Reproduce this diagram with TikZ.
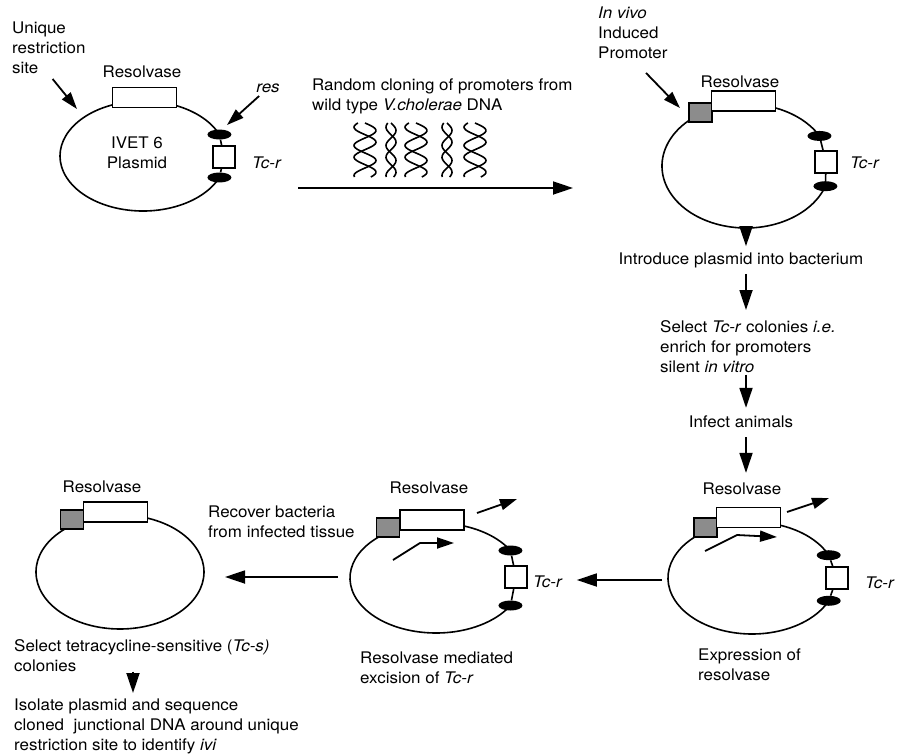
\documentclass[tikz,border=0pt]{standalone}
\usepackage{fontspec}
\setmainfont{TeX Gyre Heros}[FakeStretch=1.06]
\usetikzlibrary{shapes.geometric,arrows.meta,calc}
\newcommand{\figfont}{\fontsize{16pt}{20pt}\selectfont}

\tikzset{
  txt/.style={inner sep=0pt},
  lbl/.style={inner sep=0pt, align=left, anchor=north west},
  plasmid/.style={line width=1.6pt},
  genebox/.style={draw, fill=white, line width=1.5pt, minimum width=64pt, minimum height=20pt, inner sep=0pt},
  promobox/.style={draw, fill=black!45, line width=1.5pt, minimum width=23pt, minimum height=19pt, inner sep=0pt},
  tcbox/.style={draw, fill=white, line width=1.5pt, minimum size=22pt, inner sep=0pt},
  ressite/.style={ellipse, fill=black, minimum width=24pt, minimum height=10pt, inner sep=0pt},
  flow/.style={line width=1.8pt, -{Triangle[length=20pt,width=13pt]}},
  pointer/.style={line width=1.8pt, -{Triangle[length=17pt,width=11pt]}},
  strand/.style={line width=1.6pt},
}

\begin{document}
\begin{tikzpicture}[x=1pt, y=-1pt, font=\figfont]
  \path[fill=white] (0,0) rectangle (898,755);

  % IVET 6 plasmid
  \draw[plasmid] ([shift={(-23:83 and 55)}]143,156) arc[start angle=-23, end angle=-337, x radius=83, y radius=55];
  \node[ressite] (p1up) at ([shift={(-23:83 and 55)}]143,156) {};
  \node[ressite] (p1lo) at ([shift={(23:83 and 55)}]143,156) {};
  \node[tcbox] (p1tc) at (224,157) {};
  \draw[plasmid] (p1up) -- (p1tc) -- (p1lo);
  \node[genebox] (p1res) at (144.5,97.5) {};
  \node[txt] (p1name) at (142,72) {Resolvase};
  \node[txt, align=center] (p1lbl) at (137,153) {IVET 6\\Plasmid};
  \node[txt, anchor=west] (p1tcl) at (252,163) {\textit{Tc-r}};
  \node[txt] (p1resl) at (268,88) {\textit{res}};
  \coordinate (p1rs) at (227,125);
  \draw[pointer, shorten <=5pt] (p1resl) -- (p1rs);
  \node[lbl] (uniq) at (12,22) {Unique\\restriction\\site};
  \coordinate (p1site) at (77,109);
  \draw[pointer, shorten <=6pt] (uniq.south) -- (p1site);

  % cloning step
  \node[lbl] (clone) at (312,79) {Random cloning of promoters from\\wild type \textit{V.cholerae} DNA};
  \foreach \hx/\amp in {365/11, 391/5, 416/11, 447/5, 475/11} {
    \draw[strand] plot[domain=0:54, samples=40, smooth] ({\hx+\amp*sin(\x*12)}, {123+\x});
    \draw[strand] plot[domain=0:54, samples=40, smooth] ({\hx-\amp*sin(\x*12+40)}, {123+\x});
  }
  \coordinate (clonea) at (298,188);
  \coordinate (cloneb) at (573,188);
  \draw[flow] (clonea) -- (cloneb);

  % plasmid with induced promoter
  \draw[plasmid] ([shift={(-29:84 and 62)}]746,166) arc[start angle=-29, end angle=-341, x radius=84, y radius=62];
  \node[ressite] (p2up) at ([shift={(-29:84 and 62)}]746,166) {};
  \node[ressite] (p2lo) at ([shift={(19:84 and 62)}]746,166) {};
  \node[tcbox] (p2tc) at (826,162) {};
  \draw[plasmid] (p2up) -- (p2tc) -- (p2lo);
  \node[promobox] (p2pro) at (700.5,112.5) {};
  \node[genebox] (p2res) at (743.5,101) {};
  \node[txt] (p2name) at (740,82) {Resolvase};
  \node[txt, anchor=west] (p2tcl) at (850,163) {\textit{Tc-r}};
  \node[lbl] (invivo) at (598,7) {\textit{In vivo}\\Induced\\Promoter};
  \coordinate (p2site) at (680,108);
  \draw[pointer, shorten <=19pt] (invivo.south) -- (p2site);
  \coordinate (p2bot) at (746,228);

  % steps down the right side
  \node[txt] (intro) at (741,260) {Introduce plasmid into bacterium};
  \node[lbl] (select) at (660,320) {Select \textit{Tc-r} colonies \textit{i.e.}\\enrich for promoters\\silent \textit{in vitro}};
  \node[txt] (infect) at (741,422) {Infect animals};
  \draw[flow, shorten >=6pt] (p2bot) -- (p2bot |- intro.north);
  \draw[flow, shorten <=6pt, shorten >=10pt] (p2bot |- intro.south) -- (p2bot |- select.north);
  \draw[flow, shorten <=2pt, shorten >=8pt] (p2bot |- select.south) -- (p2bot |- infect.north);

  % expression of resolvase
  \draw[plasmid] ([shift={(-24:84 and 56)}]752,578) arc[start angle=-24, end angle=-336, x radius=84, y radius=56];
  \node[ressite] (p3up) at ([shift={(-24:84 and 56)}]752,578) {};
  \node[ressite] (p3lo) at ([shift={(24:84 and 56)}]752,578) {};
  \node[tcbox] (p3tc) at (837,578) {};
  \draw[plasmid] (p3up) -- (p3tc) -- (p3lo);
  \node[promobox] (p3pro) at (705.5,527.5) {};
  \node[genebox] (p3res) at (748.5,517.5) {};
  \node[txt] (p3name) at (742,489) {Resolvase};
  \node[txt, anchor=west] (p3tcl) at (865,583) {\textit{Tc-r}};
  \draw[pointer] (787,512) -- (829,498);
  \draw[pointer] (705,551) -- (737,535) -- (777,537);
  \node[lbl] (p3cap) at (698,649) {Expression of\\resolvase};
  \draw[flow, shorten <=9pt, shorten >=10pt] (p2bot |- infect.south) -- (p2bot |- p3name.north);

  % excision of Tc-r
  \draw[plasmid] ([shift={(-30:86 and 55)}]436,578) arc[start angle=-30, end angle=-330, x radius=86, y radius=55];
  \node[ressite] (p4up) at ([shift={(-30:86 and 55)}]436,578) {};
  \node[ressite] (p4lo) at ([shift={(30:86 and 55)}]436,578) {};
  \node[tcbox] (p4tc) at (516,577) {};
  \draw[plasmid] (p4up) -- (p4tc) -- (p4lo);
  \node[promobox] (p4pro) at (388,527.5) {};
  \node[genebox] (p4res) at (432,520) {};
  \node[txt] (p4name) at (429,488) {Resolvase};
  \node[txt, anchor=west] (p4tcl) at (533,582) {\textit{Tc-r}};
  \draw[pointer] (477,513) -- (517,499);
  \draw[pointer] (393,560) -- (420,543) -- (454,543);
  \node[lbl] (p4cap) at (360,652) {Resolvase mediated\\excision of \textit{Tc-r}};
  \coordinate (p3w) at (668,580);
  \draw[flow, shorten <=6pt, shorten >=14pt] (p3w) -- (p3w -| p4tcl.east);

  % plasmid after excision
  \draw[plasmid] (120,572) ellipse[x radius=84, y radius=57];
  \node[promobox] (p5pro) at (72,519.5) {};
  \node[genebox] (p5res) at (115.5,512) {};
  \node[txt] (p5name) at (102,487) {Resolvase};
  \node[lbl] (recover) at (208,506) {Recover bacteria\\from infected tissue};
  \coordinate (p4w) at (350,577);
  \coordinate (p5e) at (204,577);
  \draw[flow, shorten <=12pt, shorten >=21pt] (p4w) -- (p5e);
  \node[lbl] (tcs) at (14,639) {Select tetracycline-sensitive (\textit{Tc-s)}\\colonies};
  \node[lbl] (isolate) at (14,699) {Isolate plasmid and sequence\\cloned\ \ junctional DNA around unique\\restriction site to identify \textit{ivi}};
  \coordinate (isoarr) at (133,693);
  \draw[flow] (isoarr |- tcs.south) -- (isoarr);
\end{tikzpicture}
\end{document}
